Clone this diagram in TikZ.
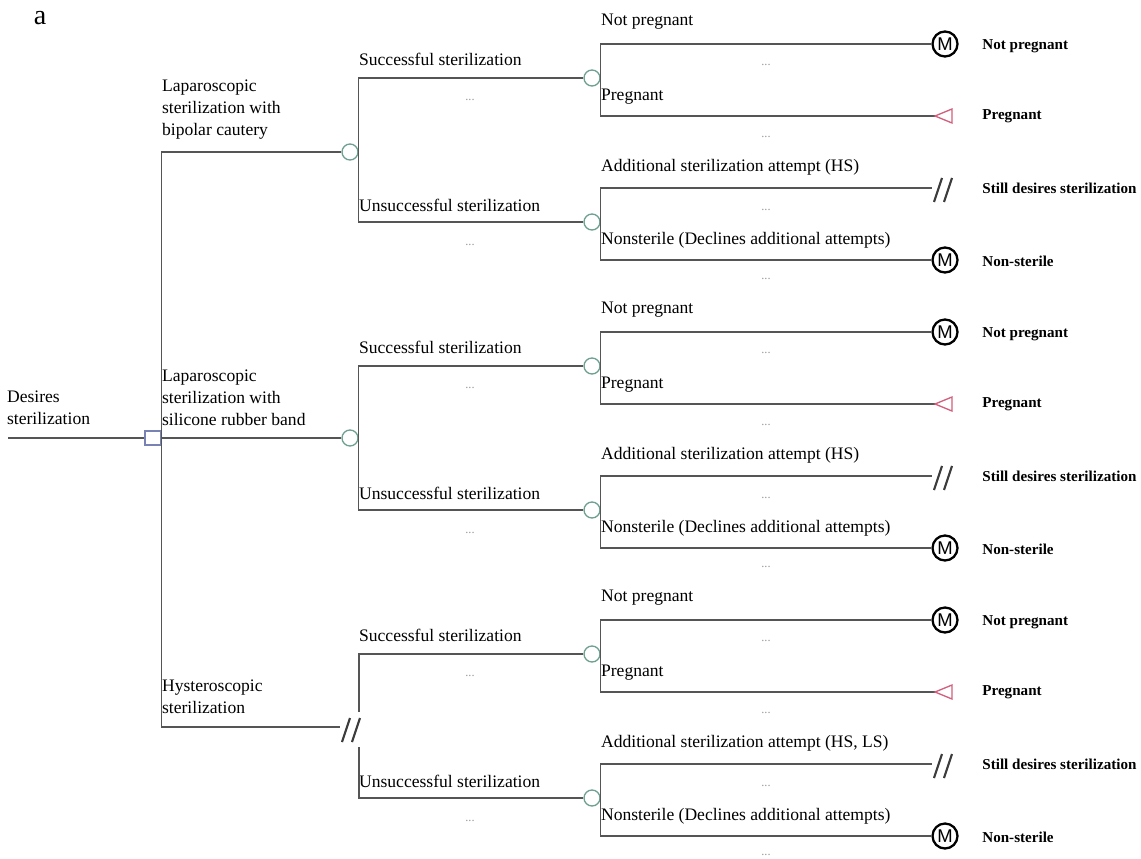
\documentclass[tikz,border=0pt]{standalone}
\usepackage{fontspec}
\setmainfont{Liberation Serif}
\setsansfont{Liberation Sans}
\usetikzlibrary{positioning}
\definecolor{branchcol}{RGB}{85,85,85}
\definecolor{chancecol}{RGB}{110,160,145}
\definecolor{decisioncol}{RGB}{120,130,180}
\definecolor{termcol}{RGB}{210,95,125}
\newcommand{\cutmark}[1]{\draw[slash] (#1) ++(-9,12) -- ++(8,-24) ++(2,24) -- ++(8,-24);}

\begin{document}
\begin{tikzpicture}[
  x=0.02cm, y=-0.02cm,
  font=\fontsize{10}{12.5}\selectfont,
  branch/.style={draw=branchcol, line width=0.75pt},
  chance/.style={circle, draw=chancecol, fill=white, line width=0.75pt,
    minimum size=0.32cm, inner sep=0pt},
  decision/.style={rectangle, draw=decisioncol, fill=white, line width=0.75pt,
    minimum width=0.32cm, minimum height=0.28cm, inner sep=0pt},
  markov/.style={circle, draw=black, line width=1.3pt, minimum size=0.5cm,
    inner sep=0pt, font=\sffamily\fontsize{10.5}{10.5}\selectfont},
  slash/.style={draw=branchcol!70!black, line width=1.2pt},
  blabel/.style={anchor=west, inner sep=1pt, align=left},
  olabel/.style={anchor=west, inner sep=0pt, font=\bfseries\fontsize{8.6}{10}\selectfont},
  dots/.style={text=gray!80, inner sep=0pt, font=\fontsize{7}{7}\selectfont},
]
  \useasboundingbox (0,0) rectangle (1141,858);
  \fill[white] (0,0) rectangle (1141,858);
  \node[font=\fontsize{16}{16}\selectfont] at (40,18) {a};

  % Root and decision node
  \coordinate (root) at (8,438);
  \node[decision] (dec) at (153,438) {};
  \node[blabel] at (5,408) {Desires\\sterilization};
  \draw[branch] (root) -- (dec.west);

  % Strategies
  \node[chance] (c1) at (350,152) {};
  \node[chance] (c2) at (350,438) {};
  \coordinate (h3) at (340,727);
  \coordinate (cut3) at (351,730);
  \node[blabel] at (160,110) {Laparoscopic\\sterilization with\\bipolar cautery};
  \node[blabel] at (160,398) {Laparoscopic\\sterilization with\\silicone rubber band};
  \node[blabel] at (160,697) {Hysteroscopic\\sterilization};
  \draw[branch] (dec.east) |- (c1.west);
  \draw[branch] (dec.east) -- (c2.west);
  \draw[branch] (dec.east) |- (h3);
  \cutmark{cut3}

  % Outcome subtrees
  \foreach \b/\dy/\att in {1/0/{Additional sterilization attempt (HS)},
                           2/288/{Additional sterilization attempt (HS)},
                           3/576/{Additional sterilization attempt (HS, LS)}}{
    \node[chance] (c\b1) at (592,78+\dy) {};
    \node[chance] (c\b2) at (592,222+\dy) {};
    \node[blabel] at (357,59+\dy) {Successful sterilization};
    \node[blabel] at (357,205+\dy) {Unsuccessful sterilization};
    \node[dots] at (470,100+\dy) {...};
    \node[dots] at (470,245+\dy) {...};

    \node[markov] (m\b1) at (945,44+\dy) {M};
    \coordinate (t\b2) at (935,116+\dy);
    \coordinate (h\b3) at (932,188+\dy);
    \coordinate (cut\b3) at (943,190+\dy);
    \node[markov] (m\b4) at (945,260+\dy) {M};
    \draw[branch] (c\b1.east) |- (m\b1.west);
    \draw[branch] (c\b1.east) |- (t\b2);
    \draw[branch] (c\b2.east) |- (h\b3);
    \draw[branch] (c\b2.east) |- (m\b4.west);
    \draw[termcol, line width=0.75pt] (t\b2) -- ++(17,-7) -- ++(0,14) -- cycle;
    \cutmark{cut\b3}

    \node[blabel] at (599,22+\dy) {Not pregnant};
    \node[blabel] at (599,97+\dy) {Pregnant};
    \node[blabel] at (599,167+\dy) {\att};
    \node[blabel] at (599,240+\dy) {Nonsterile (Declines additional attempts)};
    \foreach \ty in {65,137,210,279} \node[dots] at (766,\ty+\dy) {...};

    \node[olabel] at (982,46+\dy) {Not pregnant};
    \node[olabel] at (982,116+\dy) {Pregnant};
    \node[olabel] at (982,188+\dy) {Still desires sterilization};
    \node[olabel] at (982,261+\dy) {Non-sterile};
  }

  % Strategy to outcome connectors
  \coordinate (k3a) at (359,712);
  \coordinate (k3b) at (359,747);
  \draw[branch] (c1.east) |- (c11.west);
  \draw[branch] (c1.east) |- (c12.west);
  \draw[branch] (c2.east) |- (c21.west);
  \draw[branch] (c2.east) |- (c22.west);
  \draw[branch] (k3a) |- (c31.west);
  \draw[branch] (k3b) |- (c32.west);
\end{tikzpicture}
\end{document}
